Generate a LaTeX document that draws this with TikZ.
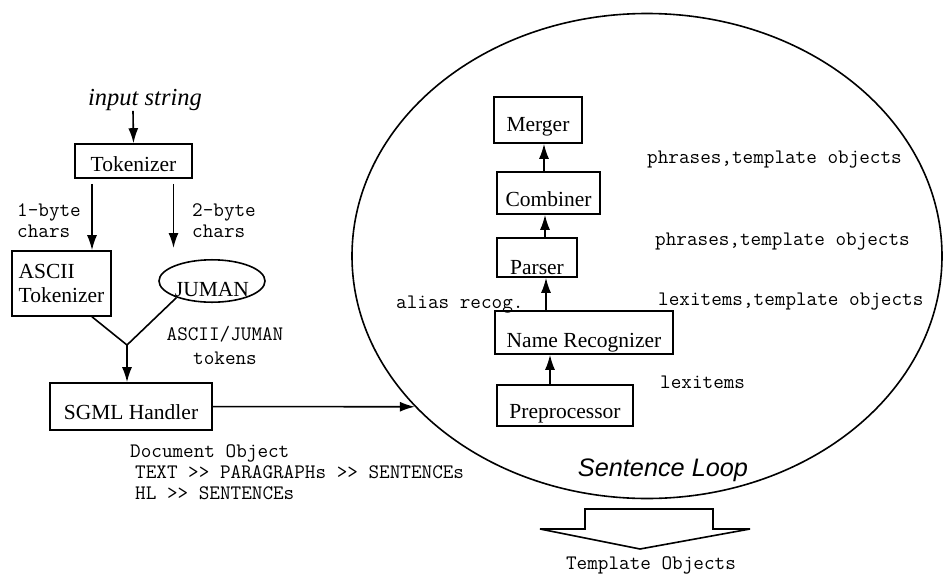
\documentclass[tikz,border=0pt]{standalone}
\usepackage{fontspec}
\setmainfont{Liberation Serif}
\setsansfont{Liberation Sans}
\usetikzlibrary{arrows.meta,shapes.geometric}

\begin{document}
\begin{tikzpicture}[
  x=1pt, y=-1pt,
  box/.style={draw, line width=1.6pt, inner sep=0pt, text depth=0pt, font=\fontsize{21.5}{23}\selectfont},
  tt/.style={inner sep=0pt, align=left, font=\ttfamily\fontsize{20.6}{21}\selectfont},
  arr/.style={-{Latex[length=15pt,width=10pt]}, line width=1.6pt},
  ln/.style={line width=1.6pt}
]
\useasboundingbox (0,0) rectangle (943,576);

\node[inner sep=0pt, font=\itshape\fontsize{24.5}{25}\selectfont] (input) at (145,100) {input string};
\node[box, minimum width=117pt, minimum height=34pt, text height=20pt] (tok) at (133.5,161) {Tokenizer};
\node[box, minimum width=99pt, minimum height=65pt, align=left, font=\fontsize{21.5}{24}\selectfont] (ascii) at (61.5,283.5) {ASCII\\Tokenizer};
\node[draw, ellipse, ln, inner sep=0pt, minimum width=106pt, minimum height=42pt, text height=30pt, text depth=0pt, font=\fontsize{21.5}{23}\selectfont] (juman) at (212,281) {JUMAN};
\node[box, minimum width=162pt, minimum height=47pt, text height=25pt] (sgml) at (131,406.5) {SGML Handler};
\coordinate (c2) at (173.5,248);
\coordinate (junc) at (127,345);

\node[tt, anchor=west] (byte1) at (17,221) {1-byte\\chars};
\node[tt, anchor=west] (byte2) at (192,221) {2-byte\\chars};
\node[tt, align=center] (tokens) at (225,345) {ASCII/JUMAN\\[3pt]tokens};
\node[tt, anchor=west] (docobj) at (130,472) {Document Object\\\hspace*{5pt}TEXT >{}> PARAGRAPHs >{}> SENTENCEs\\\hspace*{5pt}HL >{}> SENTENCEs};

\draw[arr] ([xshift=-12pt]input.south) -- (tok.north);
\draw[arr, shorten <=5pt] ([xshift=-41.5pt]tok.south) -- ([xshift=30.5pt]ascii.north);
\draw[arr, shorten <=5pt] ([xshift=40pt]tok.south) -- (c2);
\draw[ln] ([xshift=30.5pt]ascii.south) -- (junc) -- (juman.205);
\draw[arr] (junc) -- (sgml.north -| junc);

\node[draw, ellipse, ln, inner sep=0pt, minimum width=590pt, minimum height=485pt] (loop) at (647,256) {};
\node[inner sep=0pt, font=\sffamily\itshape\fontsize{25.3}{26}\selectfont] (looplbl) at (663,470) {Sentence Loop};

\node[box, minimum width=88pt, minimum height=46pt, text height=22pt] (merger) at (538,120) {Merger};
\node[box, minimum width=103pt, minimum height=42pt, text height=26pt] (comb) at (548.5,193) {Combiner};
\node[box, minimum width=80pt, minimum height=39pt, text height=33pt] (parser) at (537,257.5) {Parser};
\node[box, minimum width=178pt, minimum height=43pt, text height=29pt] (nr) at (584,332.5) {Name Recognizer};
\node[box, minimum width=136pt, minimum height=41pt, text height=25pt] (pre) at (565,405.5) {Preprocessor};

\node[tt, anchor=west] (phr1) at (647,160) {phrases,template objects};
\node[tt, anchor=west] (phr2) at (655,242) {phrases,template objects};
\node[tt, anchor=west] (lex2) at (658,302) {lexitems,template objects};
\node[tt, anchor=west] (alias) at (396,305) {alias recog.};
\node[tt, anchor=west] (lex1) at (660,382) {lexitems};

\draw[arr] ([xshift=-4.5pt]comb.north) -- ([xshift=6pt]merger.south);
\draw[arr] ([xshift=8pt]parser.north) -- ([xshift=-3.5pt]comb.south);
\draw[arr] ([xshift=-38pt]nr.north) -- ([xshift=9pt]parser.south);
\draw[arr] ([xshift=-15pt]pre.north) -- ([xshift=-34pt]nr.south);
\draw[arr] (sgml) -- (loop.213);

\draw[ln, line join=miter] (585,529) -- (585,509) -- (713,509) -- (713,529) -- (750,529) -- (640,549) -- (540,529) -- cycle;
\node[tt] (templ) at (651,565) {Template Objects};
\end{tikzpicture}
\end{document}
